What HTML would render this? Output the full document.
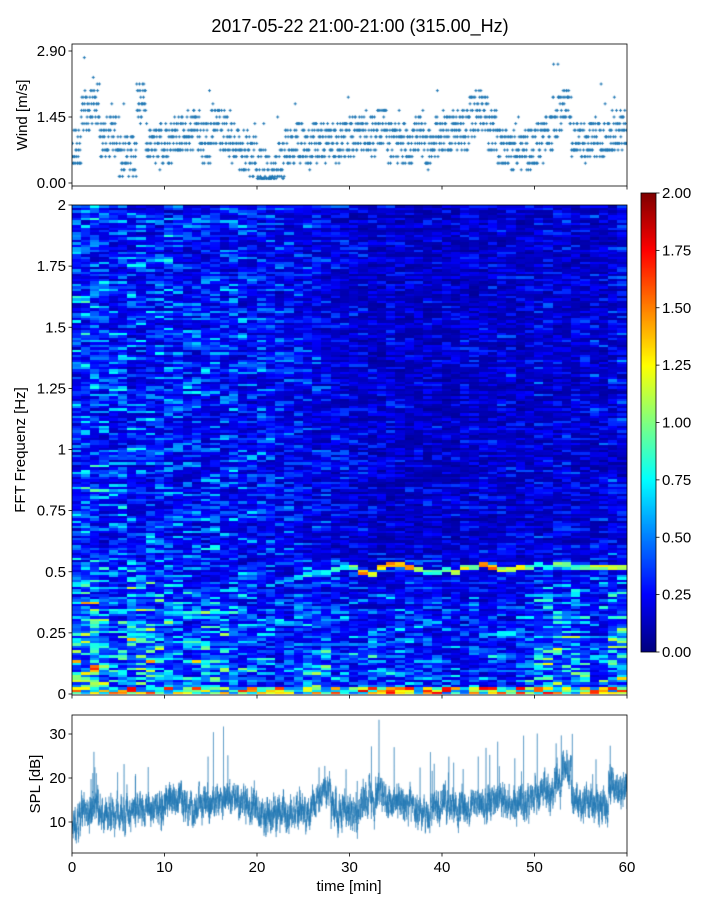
<!DOCTYPE html>
<html><head><meta charset="utf-8"><style>
body{margin:0;background:#fff;width:720px;height:900px;overflow:hidden;position:relative;font-family:"Liberation Sans","DejaVu Sans",sans-serif}
canvas{position:absolute}
svg{position:absolute;left:0;top:0}
</style></head><body>
<canvas id="wind" style="left:72px;top:44px" width="555" height="142"></canvas>
<canvas id="spec" style="left:72px;top:205px" width="555" height="490"></canvas>
<canvas id="cbar" style="left:641px;top:193px" width="15" height="459"></canvas>
<canvas id="spl" style="left:72px;top:715px" width="555" height="138"></canvas>
<svg id="ov" width="720" height="900" font-size="15" fill="#000">
<text x="360" y="32" text-anchor="middle" font-size="18">2017-05-22 21:00-21:00 (315.00_Hz)</text>
</svg>
<script>
// ---- data arrays (per minute 0..59) ----
const minutes=[...Array(60).keys()];
const windMean=[0.8,1.5,1.7,1.0,1.0,0.6,0.6,1.8,0.9,0.8,0.8,1.1,1.1,1.1,0.9,1.3,1.1,0.9,0.7,0.6,0.3,0.2,0.5,0.8,0.9,0.8,0.9,0.9,0.9,0.9,1.0,1.1,1.0,1.2,0.9,0.9,0.8,1.1,0.8,1.0,1.1,1.1,1.1,1.5,1.6,1.1,0.8,0.7,0.7,0.7,0.9,1.1,1.5,1.7,1.0,0.9,1.0,0.9,1.1,1.1];
const splMean=[10,13,14,12,12,12,12,13,14,13,15,15,14,14,13,15,15,15,14,13,12,12,11,11,12,12,14,17,13,12,12,14,15,16,14,14,15,12,12,13,14,13,13,14,14,15,15,14,14,15,16,17,18,22,15,14,14,13,18,17];
const ridgeFreq=[0,0,0,0,0,0,0,0,0,0,0,0,0,0,0,0,0,0,0,0,0,0,0.46,0.47,0.48,0.49,0.5,0.5,0.51,0.52,0.52,0.5,0.49,0.52,0.53,0.53,0.52,0.51,0.5,0.5,0.51,0.5,0.52,0.52,0.53,0.52,0.51,0.51,0.52,0.52,0.53,0.52,0.53,0.53,0.52,0.52,0.52,0.52,0.52,0.52];
const ridgeLevel=[0,0,0,0,0,0,0,0,0,0,0,0,0,0,0,0,0,0,0,0,0,0,0.6,0.6,0.7,0.8,0.8,0.8,0.9,0.9,1.0,1.5,1.4,1.5,1.6,1.4,1.7,1.2,0.9,0.9,1.0,1.1,1.2,1.1,1.5,1.6,1.1,1.1,1.4,1.0,0.9,0.9,1.0,1.1,1.0,1.1,1.1,1.2,1.1,1.1];
const upperLevel=[0.36,0.4,0.38,0.34,0.32,0.34,0.32,0.33,0.31,0.32,0.32,0.32,0.3,0.31,0.3,0.31,0.3,0.31,0.3,0.28,0.28,0.28,0.26,0.25,0.25,0.24,0.23,0.22,0.22,0.2,0.18,0.18,0.17,0.17,0.18,0.17,0.17,0.16,0.17,0.16,0.16,0.16,0.17,0.16,0.17,0.17,0.18,0.18,0.17,0.18,0.2,0.2,0.2,0.2,0.18,0.18,0.19,0.18,0.2,0.22];
const lowLevel=[0.62,0.68,0.72,0.58,0.52,0.52,0.66,0.66,0.66,0.56,0.52,0.52,0.48,0.52,0.52,0.48,0.48,0.48,0.43,0.43,0.38,0.38,0.38,0.38,0.4,0.43,0.48,0.48,0.4,0.38,0.36,0.34,0.38,0.4,0.4,0.38,0.38,0.38,0.4,0.38,0.36,0.33,0.33,0.38,0.36,0.38,0.36,0.33,0.38,0.43,0.52,0.52,0.58,0.58,0.52,0.48,0.43,0.48,0.58,0.66];
const windTicks=[0,1.45,2.9], windTickLabels=["0.00","1.45","2.90"];
const freqTicks=[0,0.25,0.5,0.75,1,1.25,1.5,1.75,2], freqTickLabels=["0","0.25","0.5","0.75","1","1.25","1.5","1.75","2"];
const cbTicks=[0,0.25,0.5,0.75,1,1.25,1.5,1.75,2], cbTickLabels=["0.00","0.25","0.50","0.75","1.00","1.25","1.50","1.75","2.00"];
const splTicks=[10,20,30], timeTicks=[0,10,20,30,40,50,60];

// ---- scales ----
const X0=72,X1=627;
const xT=t=>X0+(X1-X0)*t/60;
const yW=v=>183-(183-51)*v/2.9;
const yF=f=>694-(694-205)*f/2;
const yS=v=>866-4.4*v;
const yC=v=>652-(652-193)*v/2;
function hash(a,b){let h=(a*374761393+b*668265263)|0;h=(h^(h>>>13))*1274126177|0;h=h^(h>>>16);return ((h>>>0)%100000)/100000;}
function jet(v){v=Math.max(0,Math.min(1,v));const c=x=>Math.round(255*Math.max(0,Math.min(1,x)));
 return `rgb(${c(1.5-Math.abs(4*v-3))},${c(1.5-Math.abs(4*v-2))},${c(1.5-Math.abs(4*v-1))})`;}
const blue='#1f77b4';

// ---- wind ----
(()=>{const g=document.getElementById('wind').getContext('2d');g.fillStyle=blue;
 for(let i=0;i<1800;i++){const t=i/30, m=Math.min(59,Math.floor(t));
  let v=windMean[m]+(hash(i,7)-0.5)*0.9+(hash(i,9)>0.98?0.8:0);
  v=Math.max(0.1,Math.round(v/0.145)*0.145);
  const x=xT(t)-X0,y=yW(v)-44;
  g.fillRect(x-1.5,y-0.5,3,1);g.fillRect(x-0.5,y-1.5,1,3);}
})();
// ---- spectrogram ----
(()=>{const g=document.getElementById('spec').getContext('2d');const R=200;
 for(let c=0;c<60;c++)for(let r=0;r<R;r++){const f=(r+0.5)/R*2;
  const w=Math.max(0,Math.min(1,(f-0.15)/0.5));
  let base=lowLevel[c]*(1-w)+upperLevel[c]*w;
  let v=base*(0.25+2.2*hash(r,Math.floor(c/2)+1000)*hash(r*3+c,c+17)+0.3*hash(r,c));
  if(ridgeFreq[c]>0&&Math.abs(f-ridgeFreq[c])<0.011)v=ridgeLevel[c]*(0.8+0.3*hash(c,r));
  if(f<0.03)v=0.4+1.4*hash(c,r+5);
  g.fillStyle=jet(v/2);
  const xa=Math.floor(xT(c)-X0),xb=Math.ceil(xT(c+1)-X0);
  const ya=Math.floor(yF((r+1)/R*2)-205),yb=Math.ceil(yF(r/R*2)-205);
  g.fillRect(xa,ya,xb-xa,yb-ya);}
})();
// ---- colorbar ----
(()=>{const g=document.getElementById('cbar').getContext('2d');
 for(let y=0;y<459;y++){g.fillStyle=jet(1-y/458);g.fillRect(0,y,15,1);}})();
// ---- SPL ----
(()=>{const g=document.getElementById('spl').getContext('2d');g.strokeStyle=blue;g.lineWidth=0.6;g.globalAlpha=0.75;g.beginPath();
 const N=6000;let s=0;
 for(let i=0;i<N;i++){const t=i/N*60,m=Math.min(59,Math.floor(t));
  s=0.8*s+(hash(i,11)-0.5)*3;
  let v=splMean[m]+s+(hash(i,13)-0.5)*5;
  if(hash(i,21)>0.992)v+=5+10*hash(i,23);
  const x=xT(t)-X0,y=yS(v)-715;i?g.lineTo(x,y):g.moveTo(x,y);}
 g.stroke();})();

// ---- axes overlay ----
const ov=document.getElementById('ov');const NS='http://www.w3.org/2000/svg';
function el(tag,attrs,txt){const e=document.createElementNS(NS,tag);for(const k in attrs)e.setAttribute(k,attrs[k]);if(txt!==undefined)e.textContent=txt;ov.appendChild(e);return e;}
function frame(x0,y0,x1,y1,name){const r=el('rect',{x:x0,y:y0,width:x1-x0,height:y1-y0,fill:'none',stroke:'#000','stroke-width':0.8});
 
 }
frame(72,44,627,186,'wind-axes');frame(72,205,627,695,'spectrogram-axes');frame(641,193,656,652,'colorbar-frame');frame(72,715,627,853,'spl-axes');
function ytick(x,y,lab,name){el('line',{x1:x-3.5,x2:x,y1:y,y2:y,stroke:'#000','stroke-width':0.8});
 const t=el('text',{x:x-6,y:y+5,'text-anchor':'end'},lab);
 
 }
windTicks.forEach((v,i)=>ytick(72,yW(v),windTickLabels[i],'wind-tick-label'));
freqTicks.forEach((v,i)=>ytick(72,yF(v),freqTickLabels[i],'freq-tick-label'));
splTicks.forEach(v=>ytick(72,yS(v),String(v),'spl-tick-label'));
cbTicks.forEach((v,i)=>{el('line',{x1:656,x2:659.5,y1:yC(v),y2:yC(v),stroke:'#000','stroke-width':0.8});
 const t=el('text',{x:662,y:yC(v)+5},cbTickLabels[i]);
 
 });
timeTicks.forEach(v=>{const x=xT(v);
 [186,695,853].forEach(yy=>el('line',{x1:x,x2:x,y1:yy,y2:yy+3.5,stroke:'#000','stroke-width':0.8}));
 const t=el('text',{x:x,y:872,'text-anchor':'middle'},String(v));
 
 });
function ylab(x,y,txt,name){const t=el('text',{x:x,y:y,'text-anchor':'middle',transform:`rotate(-90 ${x} ${y})`},txt);
 
 }
ylab(27,115,'Wind [m/s]','wind-y-axis-title');
ylab(25,450,'FFT Frequenz [Hz]','freq-y-axis-title');
ylab(40,784,'SPL [dB]','spl-y-axis-title');
const xl=el('text',{x:349,y:891,'text-anchor':'middle'},'time [min]');


</script>
</body></html>
